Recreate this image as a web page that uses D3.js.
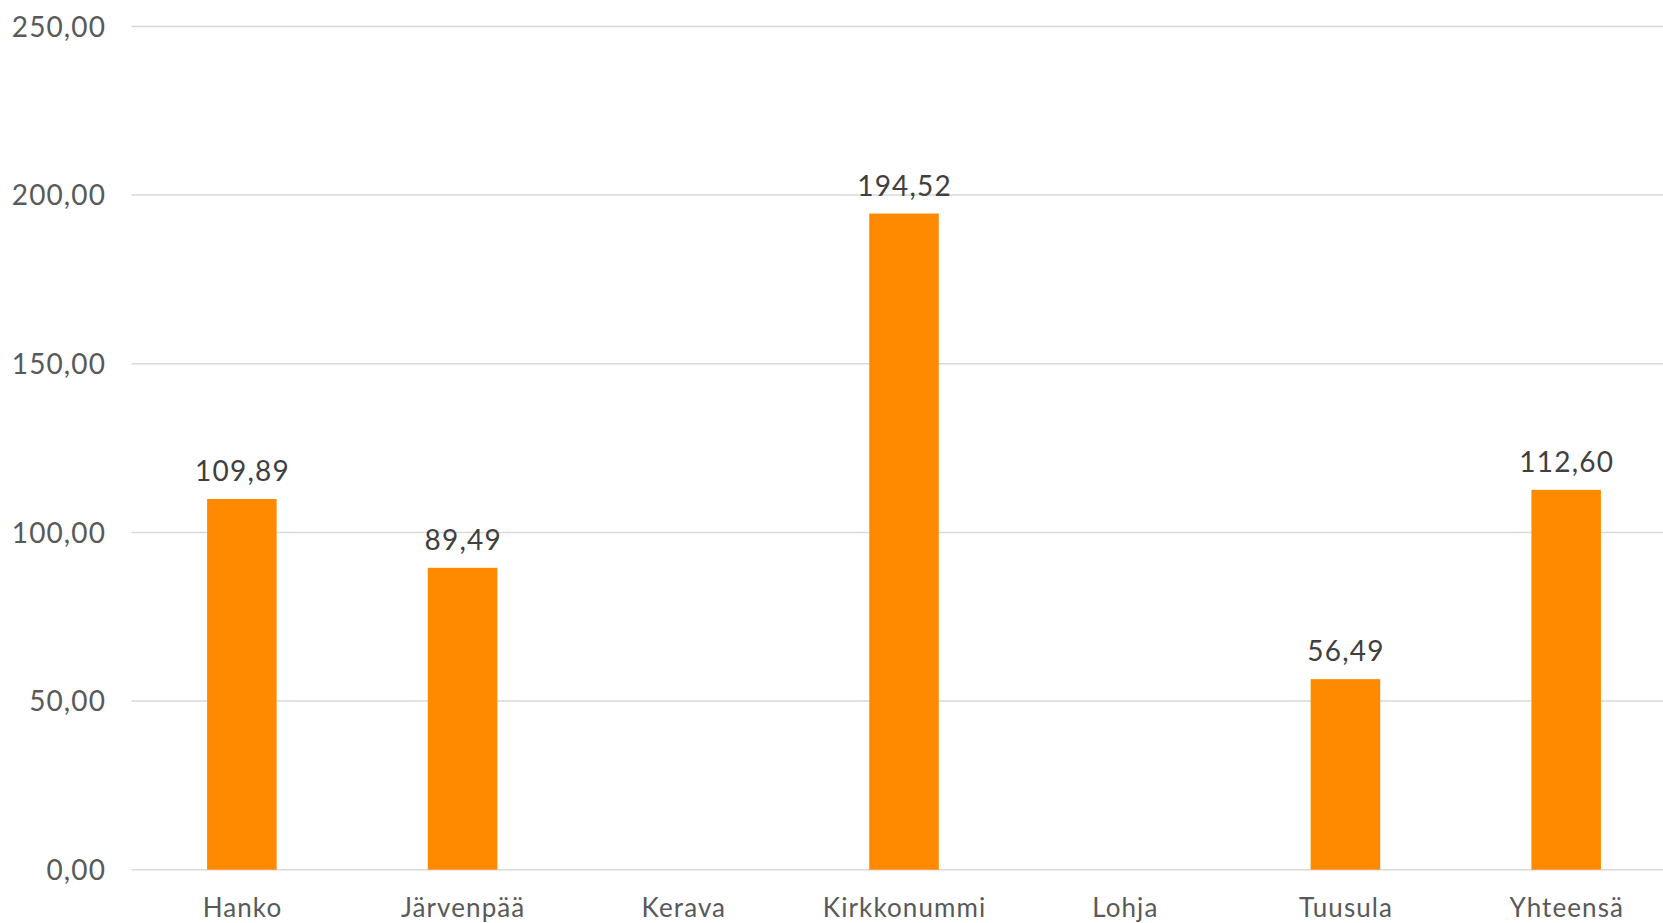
<!DOCTYPE html>
<html>
<head>
<meta charset="utf-8">
<script src="https://cdn.jsdelivr.net/npm/d3@7"></script>
<style>
html,body{margin:0;padding:0;background:#fff;}
svg{display:block;}
</style>
</head>
<body>
<svg id="chart" width="1663" height="923"></svg>
<script>
const categories = ["Hanko","Järvenpää","Kerava","Kirkkonummi","Lohja","Tuusula","Yhteensä"];
const values = [109.89, 89.49, null, 194.52, null, 56.49, 112.60];
const yTicks = [0, 50, 100, 150, 200, 250];

const W = 1663, H = 923;
const svg = d3.select("#chart");
const fontFam = "Lato, 'Noto Sans', sans-serif";
const fmt = v => d3.format(".2f")(v).replace(".", ",");

const x = d3.scaleBand().domain(categories).range([131.5, 1676.5]).paddingInner(0.685).paddingOuter(0.3425);
const y = d3.scaleLinear().domain([0, 250]).range([869.7, 26.4]);

// gridlines
svg.append("g").selectAll("line").data(yTicks).join("line")
  .attr("x1", 131.5).attr("x2", W)
  .attr("y1", d => y(d)).attr("y2", d => y(d))
  .attr("stroke", "#d9d9d9").attr("stroke-width", 1.5);

// y tick labels
const yAxis = d3.axisLeft(y).tickValues(yTicks).tickFormat(fmt).tickSize(0).tickPadding(0);
const gy = svg.append("g").attr("transform", "translate(106,0)").call(yAxis);
gy.select(".domain").remove();
gy.selectAll("text").attr("font-family", fontFam).attr("font-size", 28).attr("fill", "#595959")
  .attr("letter-spacing", "1.1px").attr("dy", "0.35em");

// bars
const data = categories.map((c, i) => ({c, v: values[i]})).filter(d => d.v != null);
svg.append("g").selectAll("rect").data(data).join("rect")
  .attr("x", d => x(d.c)).attr("width", x.bandwidth())
  .attr("y", d => y(d.v)).attr("height", d => y(0) - y(d.v))
  .attr("fill", "#ff8a00");

// value labels
svg.append("g").selectAll("text").data(data).join("text")
  .attr("x", d => x(d.c) + x.bandwidth() / 2 + 0.6)
  .attr("y", d => y(d.v) - 18)
  .attr("text-anchor", "middle")
  .attr("letter-spacing", "1.2px")
  .attr("font-family", fontFam).attr("font-size", 28).attr("fill", "#404040")
  .text(d => fmt(d.v));

// x labels
const xAxis = d3.axisBottom(x).tickSize(0).tickPadding(0);
const gx = svg.append("g").attr("transform", "translate(0.6,917)").call(xAxis);
gx.select(".domain").remove();
gx.selectAll("text").attr("font-family", fontFam).attr("font-size", 26).attr("fill", "#595959")
  .attr("letter-spacing", "1.1px").attr("dy", 0);
</script>
</body>
</html>
